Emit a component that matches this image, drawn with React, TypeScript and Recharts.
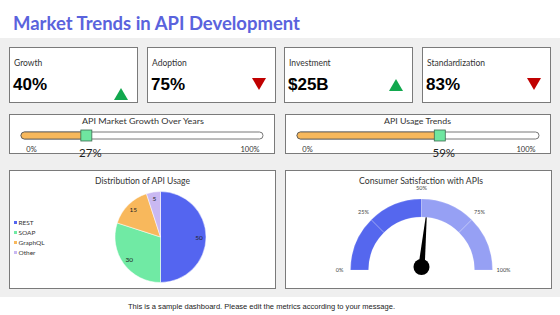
import type { ReactNode } from "react";
import {
	BarChart,
	Bar,
	XAxis,
	YAxis,
	LabelList,
	PieChart,
	Pie,
	Cell,
	Customized,
} from "recharts";

const kpi_labels = ["Growth", "Adoption", "Investment", "Standardization"];
const kpi_values = ["40%", "75%", "$25B", "83%"];
const kpi_trends = ["up", "down", "up", "down"];

const slider_titles = ["API Market Growth Over Years", "API Usage Trends"];
const slider_values = [27, 59];
const slider_ends = [0, 100];

const usage_names = ["REST", "SOAP", "GraphQL", "Other"];
const usage_values = [50, 30, 15, 5];

const gauge_bands = [25, 25, 25, 25];
const gauge_ticks = [0, 25, 50, 75, 100];
const gauge_value = 53;

const FONT = "Lato, 'Open Sans', sans-serif";
const ARIAL = "'Liberation Sans', Arial, sans-serif";
const BORDER = "1px solid #7a7a7a";
const USAGE_COLORS = ["#5465f0", "#70eaa4", "#f8b85c", "#c9b8f2"];
const GAUGE_COLORS = ["#5567ee", "#5567ee", "#96a0f4", "#96a0f4"];
const RAD = Math.PI / 180;

// gauge centre inside its chart
const G_CX = 135.5;
const G_CY = 99;

function FitText(props: {
	x: number;
	y: number;
	w: number;
	size: number;
	weight?: number;
	color?: string;
	family?: string;
	children: ReactNode;
}) {
	const { x, y, w, size, weight = 400, color = "#333", family = FONT } = props;
	return (
		<svg
			style={{ position: "absolute", left: x, top: y - size, overflow: "visible" }}
			width={w}
			height={size * 1.3}
		>
			<text
				x={0}
				y={size}
				fontSize={size}
				fontWeight={weight}
				fill={color}
				fontFamily={family}
				textLength={w}
				lengthAdjust="spacingAndGlyphs"
			>
				{props.children}
			</text>
		</svg>
	);
}

const card_left = [9, 147, 284, 422];
const trend_top = [41, 31, 32, 31];

function KpiCard({ i }: { i: number }) {
	const up = kpi_trends[i] === "up";
	return (
		<div
			style={{
				position: "absolute",
				left: card_left[i],
				top: 47,
				width: 129,
				height: 56,
				boxSizing: "border-box",
				background: "#fff",
				border: BORDER,
			}}
		>
			<div
				style={{
					position: "absolute",
					left: 4,
					top: 11,
					fontSize: 8.5,
					lineHeight: "9px",
					fontFamily: FONT,
					color: "#333",
				}}
			>
				{kpi_labels[i]}
			</div>
			<div
				style={{
					position: "absolute",
					left: 3,
					top: 28,
					fontSize: 17,
					lineHeight: "17px",
					fontWeight: 700,
					fontFamily: ARIAL,
					color: "#000",
				}}
			>
				{kpi_values[i]}
			</div>
			<svg
				style={{ position: "absolute", left: 104, top: trend_top[i] - 1 }}
				width={15}
				height={13}
			>
				{up ? (
					<polygon points="7,0 14,12 0,12" fill="#12a84e" />
				) : (
					<polygon points="0,0 14,0 7,12" fill="#c00000" />
				)}
			</svg>
		</div>
	);
}

function Handle(props: any) {
	const { x, y, width, height, value } = props;
	const hx = x + width;
	const hy = y + height / 2;
	return (
		<g>
			<rect x={hx - 5.5} y={hy - 5.5} width={11} height={11} fill="#6fe6a0" stroke="#3d6b50" strokeWidth={0.8} />
			<text x={hx + 4} y={y + 24.5} textAnchor="middle" fontSize={11.5} fontFamily={FONT} fill="#222">
				{value}%
			</text>
		</g>
	);
}

function EndTick(props: any) {
	const { x, y, payload } = props;
	const dx = payload.value === 0 ? 10.5 : -12;
	return (
		<text x={x + dx} y={y + 1} textAnchor="middle" fontSize={7.5} fontFamily={FONT} fill="#333">
			{payload.value}%
		</text>
	);
}

function Slider({ i, left }: { i: number; left: number }) {
	const data = [{ name: slider_titles[i], value: slider_values[i] }];
	return (
		<div
			style={{
				position: "absolute",
				left,
				top: 114,
				width: 266,
				height: 40,
				boxSizing: "border-box",
				background: "#fff",
				border: BORDER,
			}}
		>
			<div style={{ position: "absolute", left: 0, top: 0 }}>
				<BarChart
					width={264}
					height={48}
					layout="vertical"
					data={data}
					margin={{ top: 13, right: 11, bottom: 10, left: 11 }}
				>
					<XAxis
						type="number"
						domain={[0, 100]}
						ticks={slider_ends}
						axisLine={false}
						tickLine={false}
						height={10}
						tick={<EndTick />}
					/>
					<YAxis type="category" dataKey="name" hide />
					<Bar
						dataKey="value"
						barSize={7}
						fill="#f7b85c"
						stroke="#555"
						strokeWidth={0.8}
						radius={[3.5, 0, 0, 3.5]}
						background={{ fill: "#fff", stroke: "#555", strokeWidth: 0.8, radius: 3.5 } as any}
						isAnimationActive={false}
					>
						<LabelList dataKey="value" content={<Handle />} />
					</Bar>
				</BarChart>
			</div>
		</div>
	);
}

function PieLabel(props: any) {
	const { cx, cy, midAngle, value } = props;
	const r = 38.5;
	const x = cx + r * Math.cos(-midAngle * RAD);
	const y = cy + r * Math.sin(-midAngle * RAD);
	return (
		<text x={x} y={y} textAnchor="middle" dominantBaseline="central" fontSize={6.5} fontFamily={FONT} fill="#222">
			{value}
		</text>
	);
}

function GaugeOverlay() {
	const a = (180 - (gauge_value / 100) * 180) * RAD;
	const px = G_CX;
	const py = G_CY - 3;
	const tx = px + 60 * Math.cos(a);
	const ty = py - 60 * Math.sin(a);
	const nx = Math.sin(a) * 3.2;
	const ny = Math.cos(a) * 3.2;
	return (
		<g>
			{gauge_ticks.map((t) => {
				const ta = (180 - (t / 100) * 180) * RAD;
				return (
					<text
						key={t}
						x={G_CX + 82 * Math.cos(ta)}
						y={G_CY - 82 * Math.sin(ta)}
						textAnchor="middle"
						dominantBaseline="central"
						fontSize={5.5}
						fontFamily={FONT}
						fill="#444"
					>
						{t}%
					</text>
				);
			})}
			<polygon points={`${px - nx},${py - ny} ${tx},${ty} ${px + nx},${py + ny}`} fill="#000" />
			<circle cx={px} cy={py} r={8} fill="#000" />
		</g>
	);
}

export default function App() {
	const usage = usage_names.map((name, i) => ({ name, value: usage_values[i] }));
	const bands = gauge_bands.map((value, i) => ({ name: `b${i}`, value }));
	return (
		<div
			style={{
				position: "absolute",
				left: 0,
				top: 0,
				width: 560,
				height: 315,
				background: "#fff",
				overflow: "hidden",
				fontFamily: FONT,
			}}
		>
			<FitText x={13} y={30} w={287} size={19} weight={700} color="#5a63dd">
				Market Trends in API Development
			</FitText>
			<div style={{ position: "absolute", left: 0, top: 38, width: 560, height: 259, background: "#efefef" }} />

			{kpi_labels.map((_, i) => (
				<KpiCard key={i} i={i} />
			))}

			<Slider i={0} left={9} />
			<Slider i={1} left={285} />
			<FitText x={82} y={123.5} w={122} size={8}>
				{slider_titles[0]}
			</FitText>
			<FitText x={384} y={123.5} w={67} size={8}>
				{slider_titles[1]}
			</FitText>

			{/* pie panel */}
			<div
				style={{
					position: "absolute",
					left: 9,
					top: 170,
					width: 267,
					height: 119,
					boxSizing: "border-box",
					background: "#fff",
					border: BORDER,
				}}
			>
				<div style={{ position: "absolute", left: 0, top: 0 }}>
					<PieChart width={265} height={117} margin={{ top: 0, right: 0, bottom: 0, left: 0 }}>
						<Pie
							data={usage}
							dataKey="value"
							nameKey="name"
							cx={150.5}
							cy={66}
							outerRadius={45.5}
							startAngle={90}
							endAngle={-270}
							stroke="#fff"
							strokeWidth={0.5}
							label={<PieLabel />}
							labelLine={false}
							isAnimationActive={false}
						>
							{usage.map((_, i) => (
								<Cell key={i} fill={USAGE_COLORS[i]} />
							))}
						</Pie>
					</PieChart>
				</div>
				<ul style={{ position: "absolute", left: 4, top: 46, listStyle: "none", margin: 0, padding: 0 }}>
					{usage_names.map((n, i) => (
						<li
							key={n}
							style={{
								height: 10,
								display: "flex",
								alignItems: "center",
								fontSize: 6.5,
								fontFamily: FONT,
								color: "#333",
							}}
						>
							<span style={{ width: 3, height: 3, background: USAGE_COLORS[i], marginRight: 1.5 }} />
							{n}
						</li>
					))}
				</ul>
			</div>
			<FitText x={95} y={183.5} w={95} size={8.5}>
				Distribution of API Usage
			</FitText>

			{/* gauge panel */}
			<div
				style={{
					position: "absolute",
					left: 285,
					top: 170,
					width: 267,
					height: 119,
					boxSizing: "border-box",
					background: "#fff",
					border: BORDER,
				}}
			>
				<div style={{ position: "absolute", left: 0, top: 0 }}>
					<PieChart width={265} height={117} margin={{ top: 0, right: 0, bottom: 0, left: 0 }}>
						<Pie
							data={bands}
							dataKey="value"
							cx={G_CX}
							cy={G_CY}
							innerRadius={53}
							outerRadius={71}
							startAngle={180}
							endAngle={0}
							stroke="rgba(255,255,255,0.35)"
							strokeWidth={0.5}
							isAnimationActive={false}
						>
							{bands.map((_, i) => (
								<Cell key={i} fill={GAUGE_COLORS[i]} />
							))}
						</Pie>
						<Customized component={<GaugeOverlay />} />
					</PieChart>
				</div>
			</div>
			<FitText x={359} y={183.5} w={124} size={8.5}>
				Consumer Satisfaction with APIs
			</FitText>

			<FitText x={128} y={309} w={267} size={8} family={ARIAL} color="#222">
				This is a sample dashboard. Please edit the metrics according to your message.
			</FitText>
		</div>
	);
}
